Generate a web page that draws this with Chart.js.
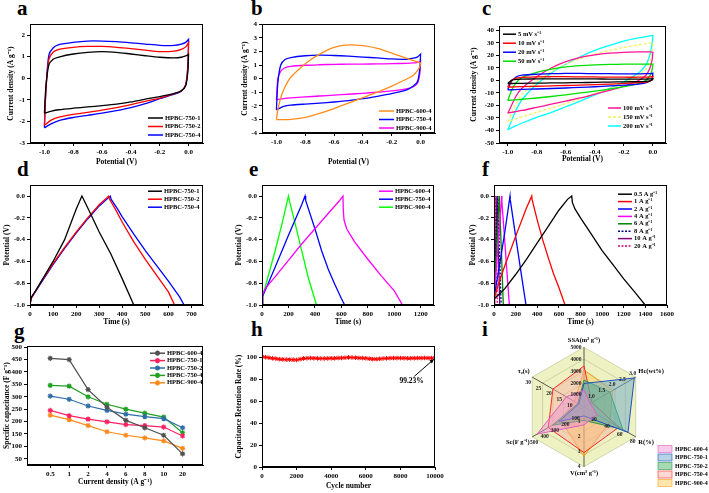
<!DOCTYPE html>
<html>
<head>
<meta charset="utf-8">
<script src="https://cdn.jsdelivr.net/npm/chart.js@4.4.1/dist/chart.umd.min.js"></script>
<style>
  body { margin: 0; background: #fff; width: 709px; height: 493px; position: relative; overflow: hidden; }
  canvas { position: absolute; }
  .lbl { position: absolute; font: bold 21px "Liberation Serif", serif; line-height: 1; }
</style>
</head>
<body>
<div class="lbl" style="left:17px;top:-2px">a</div>
<div class="lbl" style="left:251px;top:-2px">b</div>
<div class="lbl" style="left:482px;top:-2px">c</div>
<div class="lbl" style="left:17px;top:159px">d</div>
<div class="lbl" style="left:249px;top:159px">e</div>
<div class="lbl" style="left:482px;top:159px">f</div>
<div class="lbl" style="left:14px;top:321px">g</div>
<div class="lbl" style="left:251px;top:319px">h</div>
<div class="lbl" style="left:482px;top:319px">i</div>
<canvas id="ca"></canvas><canvas id="cb"></canvas><canvas id="cc"></canvas>
<canvas id="cd"></canvas><canvas id="ce"></canvas><canvas id="cf"></canvas>
<canvas id="cg"></canvas><canvas id="ch"></canvas><canvas id="ci"></canvas>
<script>
// ---- data ----
// CV potential grids: upper branch (-1 -> 0) and lower branch (0 -> -1)
var cvUp = [-1.0, -0.99, -0.97, -0.94, -0.9, -0.8, -0.7, -0.6, -0.5, -0.4, -0.3, -0.2, -0.1, -0.05, -0.02, 0.0];
var cvDown = [0.0, -0.005, -0.02, -0.05, -0.1, -0.2, -0.3, -0.4, -0.5, -0.6, -0.7, -0.8, -0.9, -0.95, -1.0];

// a: CV of HPBC-750-x
var a1Up = [-1.62, -0.4, 0.6, 0.88, 0.98, 1.12, 1.2, 1.23, 1.2, 1.12, 1.04, 0.97, 0.94, 0.97, 1.03, 1.1];
var a1Down = [1.1, 0.3, -0.35, -0.58, -0.7, -0.85, -0.97, -1.1, -1.2, -1.27, -1.33, -1.39, -1.46, -1.52, -1.62];
var a2Up = [-2.18, -0.6, 0.85, 1.2, 1.33, 1.43, 1.47, 1.47, 1.43, 1.37, 1.3, 1.23, 1.25, 1.33, 1.45, 1.65];
var a2Down = [1.65, 0.5, -0.3, -0.58, -0.72, -0.92, -1.07, -1.22, -1.36, -1.48, -1.58, -1.67, -1.8, -1.93, -2.18];
var a4Up = [-2.3, -0.6, 1.05, 1.4, 1.55, 1.66, 1.72, 1.72, 1.69, 1.64, 1.58, 1.52, 1.52, 1.58, 1.66, 1.8];
var a4Down = [1.8, 0.6, -0.3, -0.6, -0.74, -0.95, -1.18, -1.36, -1.5, -1.62, -1.72, -1.82, -1.96, -2.1, -2.3];

// b: CV of HPBC-x-4
var b600Up = [-3.0, -2.3, -1.4, -0.6, 0.1, 1.1, 1.8, 2.3, 2.48, 2.42, 2.22, 1.88, 1.5, 1.32, 1.22, 1.15];
var b600Down = [1.15, 0.9, 0.6, 0.25, -0.05, -0.55, -1.0, -1.4, -1.8, -2.2, -2.55, -2.85, -3.0, -3.02, -3.02];
var b750Up = [-2.3, -0.3, 1.0, 1.4, 1.55, 1.68, 1.72, 1.7, 1.65, 1.58, 1.52, 1.45, 1.42, 1.5, 1.6, 1.8];
var b750Down = [1.8, 0.8, -0.2, -0.55, -0.85, -1.1, -1.3, -1.48, -1.62, -1.72, -1.8, -1.87, -1.95, -2.05, -2.3];
var b900Up = [-1.55, 0.0, 0.55, 0.8, 0.9, 0.98, 1.02, 1.05, 1.06, 1.07, 1.08, 1.1, 1.12, 1.15, 1.2, 1.28];
var b900Down = [1.28, 0.4, -0.3, -0.6, -0.75, -0.9, -1.0, -1.08, -1.15, -1.22, -1.28, -1.35, -1.42, -1.47, -1.55];

// c: CV at scan rates
var cRates = ['5 mV s⁻¹', '10 mV s⁻¹', '20 mV s⁻¹', '50 mV s⁻¹', '100 mV s⁻¹', '150 mV s⁻¹', '200 mV s⁻¹'];
var c5Up = [-2.5, -1.5, 0.2, 0.9, 1.1, 1.25, 1.3, 1.3, 1.25, 1.2, 1.15, 1.1, 1.1, 1.15, 1.2, 1.3];
var c5Down = [1.3, 0.3, -0.4, -0.7, -0.9, -1.1, -1.3, -1.5, -1.7, -1.85, -2.0, -2.1, -2.25, -2.35, -2.5];
var c10Up = [-5.3, -3, 0.3, 1.8, 2.4, 2.9, 3.0, 3.0, 2.9, 2.8, 2.7, 2.6, 2.6, 2.7, 2.8, 3.2];
var c10Down = [3.2, 1.0, -0.5, -1.3, -1.8, -2.4, -2.9, -3.3, -3.7, -4.0, -4.3, -4.6, -4.9, -5.1, -5.3];
var c20Up = [-7.5, -4.5, 0, 3, 4.2, 5.0, 5.4, 5.6, 5.6, 5.5, 5.4, 5.3, 5.3, 5.4, 5.5, 5.8];
var c20Down = [5.8, 2, -0.5, -2, -3, -3.8, -4.4, -5, -5.5, -6, -6.4, -6.8, -7.1, -7.3, -7.5];
var c50Up = [-16, -13, -7, -1.5, 2.5, 6.5, 9, 10.8, 11.8, 12.4, 12.8, 13, 13, 13, 13, 13];
var c50Down = [13, 9, 4, 0, -2.5, -5, -7, -8.5, -10, -11.5, -12.8, -14, -15, -15.5, -16];
var c100Up = [-26, -24, -19, -12, -6, 3, 10, 15, 18.5, 20.5, 21.8, 22.5, 22.8, 22.8, 22.8, 22.5];
var c100Down = [22.5, 17, 10, 4, 0, -4.5, -8, -11, -14, -16.5, -19, -21.5, -24, -25, -26];
var c150Up = [-33, -31, -25, -18, -11, -1, 7, 13, 17.5, 21, 24, 26.5, 28.5, 29.3, 29.8, 30];
var c150Down = [30, 24, 16, 9, 4, -2, -6.5, -10.5, -14.5, -18.5, -22, -25.5, -29, -31, -33];
var c200Up = [-39.5, -37, -31, -23, -15, -3, 6, 13, 19, 24, 28, 31.5, 34, 35, 35.6, 36];
var c200Down = [36, 30, 21, 12, 6, -1, -6.5, -11.5, -16.5, -21, -25.5, -29.5, -34, -36.5, -39.5];

// d: GCD of HPBC-750-x (time s, potential V)
var d1T = [0, 5, 30, 100, 150, 200, 225, 230, 260, 300, 350, 400, 450];
var d1V = [-1.0, -0.93, -0.85, -0.6, -0.4, -0.12, 0, -0.02, -0.15, -0.33, -0.53, -0.76, -1.0];
var d2T = [0, 5, 50, 100, 150, 200, 250, 300, 341, 345, 370, 400, 450, 500, 550, 600, 627];
var d2V = [-1.0, -0.94, -0.78, -0.62, -0.47, -0.33, -0.2, -0.08, 0, -0.03, -0.12, -0.24, -0.42, -0.58, -0.73, -0.88, -1.0];
var d4T = [0, 5, 50, 100, 150, 200, 250, 300, 348, 352, 380, 400, 450, 500, 550, 600, 650, 668];
var d4V = [-1.0, -0.94, -0.79, -0.63, -0.48, -0.34, -0.21, -0.09, 0, -0.03, -0.12, -0.19, -0.35, -0.5, -0.64, -0.78, -0.93, -1.0];

// e: GCD of HPBC-x-4
var e600T = [0, 5, 30, 100, 200, 300, 400, 500, 580, 612, 614, 620, 640, 700, 800, 900, 1000, 1062];
var e600V = [-1.0, -0.9, -0.84, -0.74, -0.59, -0.44, -0.3, -0.16, -0.05, 0, -0.12, -0.22, -0.3, -0.42, -0.58, -0.73, -0.87, -1.0];
var e750T = [0, 5, 100, 200, 300, 325, 330, 400, 450, 500, 550, 600, 625];
var e750V = [-1.0, -0.92, -0.65, -0.36, -0.08, 0, -0.04, -0.3, -0.5, -0.67, -0.81, -0.94, -1.0];
var e900T = [0, 5, 50, 100, 150, 200, 205, 250, 300, 350, 412];
var e900V = [-1.0, -0.92, -0.72, -0.5, -0.26, 0, -0.03, -0.25, -0.5, -0.75, -1.0];

// f: GCD of HPBC-750-4 at current densities
var fRates = ['0.5 A g⁻¹', '1 A g⁻¹', '2 A g⁻¹', '4 A g⁻¹', '6 A g⁻¹', '8 A g⁻¹', '10 A g⁻¹', '20 A g⁻¹'];
var f05T = [0, 5, 50, 100, 200, 300, 400, 500, 600, 680, 719, 725, 750, 800, 900, 1000, 1100, 1200, 1300, 1398];
var f05V = [-1.0, -0.94, -0.9, -0.85, -0.72, -0.58, -0.43, -0.28, -0.13, -0.03, 0, -0.06, -0.12, -0.2, -0.35, -0.5, -0.63, -0.76, -0.88, -1.0];
var f1T = [0, 5, 50, 100, 200, 300, 349, 352, 400, 450, 500, 550, 600, 657];
var f1V = [-1.0, -0.93, -0.78, -0.64, -0.37, -0.11, 0, -0.03, -0.22, -0.4, -0.56, -0.71, -0.84, -1.0];
var f2T = [0, 3, 50, 100, 148, 150, 200, 250, 296];
var f2V = [-1.0, -0.92, -0.64, -0.33, 0, -0.03, -0.37, -0.7, -1.0];
var f4T = [0, 2, 20, 50, 71, 73, 100, 120, 142];
var f4V = [-1.0, -0.9, -0.68, -0.3, 0, -0.05, -0.42, -0.7, -1.0];
var f6T = [0, 2, 20, 49, 51, 70, 86];
var f6V = [-1.0, -0.9, -0.55, 0, -0.06, -0.55, -1.0];
var f8T = [0, 2, 15, 36, 38, 52, 66];
var f8V = [-1.0, -0.9, -0.56, 0, -0.07, -0.55, -1.0];
var f10T = [0, 2, 12, 27, 29, 42, 53];
var f10V = [-1.0, -0.88, -0.55, 0, -0.08, -0.55, -1.0];
var f20T = [0, 1, 8, 16, 18, 25, 30];
var f20V = [-1.0, -0.85, -0.5, 0, -0.12, -0.6, -1.0];

// g: rate capability
var gLabels = ['0.5', '1', '2', '4', '6', '8', '10', '20'];
var g600 = [455, 450, 329, 258, 205, 175, 145, 70];
var g750_1 = [245, 224, 210, 199, 188, 184, 178, 142];
var g750_2 = [303, 290, 263, 245, 230, 220, 212, 175];
var g750_4 = [346, 343, 300, 270, 250, 234, 218, 155];
var g900 = [226, 208, 184, 159, 145, 134, 122, 92];

// h: cycling stability
var hCycles = [0, 200, 400, 600, 800, 1000, 1200, 1400, 1600, 1800, 2000, 2200, 2400, 2600, 2800, 3000, 3200, 3400, 3600, 3800,
  4000, 4200, 4400, 4600, 4800, 5000, 5200, 5400, 5600, 5800, 6000, 6200, 6400, 6600, 6800, 7000, 7200, 7400, 7600, 7800,
  8000, 8200, 8400, 8600, 8800, 9000, 9200, 9400, 9600, 9800, 10000];
var hRetention = [100.5, 100, 99.5, 99, 98.7, 98.2, 98, 97.8, 97.8, 97.7, 97.5, 98.2, 98.8, 99, 99.2, 99, 98.9, 98.8, 98.8, 98.9,
  99, 99, 99.2, 99.3, 99.5, 99.8, 99.7, 99.5, 99.3, 99.2, 99, 98.6, 98.3, 98.2, 98.5, 98.8, 99, 99.1, 99.2, 99.2,
  99.2, 99.1, 99, 99, 99.1, 99.2, 99.2, 99.3, 99.2, 99.2, 99.23];
var hNoteText = '99.23%';
var hNoteAt = [8650, 78];
var hArrow = [[8800, 82.5], [9950, 98.3]];

// i: radar of properties (raw values per axis)
var iAxes = ['SSA(m² g⁻¹)', 'Hc(wt%)', 'R(%)', 'V(cm³ g⁻¹)', 'Sc(F g⁻¹)', 'τ₀(s)'];
var iMin = [0, 0.5, 0, 0, 0, 5];
var iMax = [5000, 3.0, 80, 4, 500, 30];
var iTicks = [[1000, 2000, 3000, 4000, 5000], ['1.0', '1.5', '2.0', '2.5', '3.0'], [20, 40, 60, 80], [1, 2, 3, 4], [100, 200, 300, 400, 500], [10, 15, 20, 25, 30]];
var iNames = ['HPBC-600-4', 'HPBC-750-1', 'HPBC-750-2', 'HPBC-750-4', 'HPBC-900-4'];
var i600 = [1400, 0.8, 20, 1.2, 453, 13.5];
var i750_1 = [1970, 2.93, 68, 0.6, 242, 7.5];
var i750_2 = [2250, 1.75, 60, 0.9, 305, 8];
var i750_4 = [3430, 0.88, 54, 3.05, 345, 20];
var i900 = [3100, 1.88, 40, 3.3, 225, 9.5];

// ---- setup ----
var FONT = '"Liberation Serif", "Times New Roman", serif';
Chart.defaults.font.family = FONT;
Chart.defaults.font.weight = 'bold';
Chart.defaults.font.size = 7;
Chart.defaults.color = '#000';
Chart.defaults.animation = false;
Chart.defaults.responsive = false;
Chart.defaults.devicePixelRatio = 1;
Chart.defaults.plugins.legend.display = false;
Chart.defaults.plugins.tooltip.enabled = false;

function xy(xs, ys) { return xs.map(function (x, i) { return { x: x, y: ys[i] }; }); }
function loop(up, down) { return xy(cvUp, up).concat(xy(cvDown, down)); }
function line(label, data, color, extra) {
  return Object.assign({ label: label, data: data, borderColor: color, backgroundColor: color,
    borderWidth: 1.3, pointRadius: 0, showLine: true, fill: false, tension: 0 }, extra || {});
}

function panel(id, box, yW, xH, padT, padR) {
  var cv = document.getElementById(id);
  var left = box[0] - yW, top = box[1] - padT;
  var w = box[2] - left + padR, h = box[3] - top + xH;
  cv.width = w; cv.height = h;
  cv.style.left = left + 'px'; cv.style.top = top + 'px';
  cv.style.width = w + 'px'; cv.style.height = h + 'px';
  return cv;
}

function axis(min, max, step, title, size, digits, labels, titlePad) {
  return {
    type: 'linear', min: min, max: max,
    ticks: { stepSize: step, padding: 2, font: { size: 7 },
      callback: function (v) { return labels ? labels[v] : (digits ? v.toFixed(digits) : String(v)); } },
    // ticks only on whole multiples of the step, inside the axis range
    afterBuildTicks: function (s) {
      var t = [];
      for (var k = Math.ceil(min / step - 1e-6); k * step <= max + 1e-9; k++) {
        var v = Math.round(k * step * 1e6) / 1e6;
        if (!labels || (v >= 0 && v < labels.length)) t.push({ value: v });
      }
      s.ticks = t;
    },
    grid: { drawOnChartArea: false, tickLength: 3, color: '#000' },
    border: { color: '#000', width: 1 },
    title: { display: true, text: title, font: { size: 7.5 }, padding: { top: titlePad || 3, bottom: 1 } },
    afterFit: function (s) { if (s.isHorizontal()) s.height = size; else s.width = size; }
  };
}

function opts(x, y, padT, padR, legend) {
  return {
    layout: { padding: { left: 0, top: padT, right: padR, bottom: 0 } },
    scales: { x: x, y: y },
    plugins: { innerLegend: legend }
  };
}

var frame = {
  id: 'frame',
  afterDatasetsDraw: function (c) {
    var a = c.chartArea, ctx = c.ctx;
    ctx.save();
    ctx.strokeStyle = '#000';
    ctx.lineWidth = 1;
    ctx.strokeRect(Math.round(a.left) + 0.5, Math.round(a.top) + 0.5, Math.round(a.right - a.left) - 1, Math.round(a.bottom - a.top) - 1);
    ctx.restore();
  }
};

var innerLegend = {
  id: 'innerLegend',
  afterDraw: function (c, args, o) {
    if (!o || !o.groups) return;
    var ctx = c.ctx, a = c.chartArea;
    ctx.save();
    ctx.font = 'bold ' + (o.size || 6.5) + 'px ' + FONT;
    ctx.textBaseline = 'middle';
    o.groups.forEach(function (g) {
      var x0 = g.left != null ? a.left + g.left : a.right - g.right;
      var y0 = g.top != null ? a.top + g.top : a.bottom - g.bottom;
      g.items.forEach(function (i, k) {
        var ds = c.data.datasets[i], y = y0 + k * o.rowH;
        ctx.strokeStyle = ds.borderColor;
        ctx.lineWidth = 1.5;
        ctx.setLineDash(ds.borderDash || []);
        ctx.beginPath(); ctx.moveTo(x0, y); ctx.lineTo(x0 + o.lineLen, y); ctx.stroke();
        ctx.setLineDash([]);
        if (o.marker) {
          Chart.helpers.drawPoint(ctx, { pointStyle: ds.pointStyle, radius: ds.pointRadius, borderWidth: ds.pointBorderWidth || 1 }, x0 + o.lineLen / 2, y);
        }
        ctx.fillStyle = '#000';
        ctx.fillText(ds.label, x0 + o.lineLen + 2, y);
      });
    });
    ctx.restore();
  }
};

var cvTension = { tension: 0.25 };
var PV = 'Potential (V)', CD = 'Current density (A g⁻¹)', PT = 'Potential (V)', TS = 'Time (s)';

// a
new Chart(panel('ca', [30, 23, 203, 143], 30, 25, 5, 6), {
  type: 'scatter',
  data: { datasets: [
    line('HPBC-750-1', loop(a1Up, a1Down), '#000000', cvTension),
    line('HPBC-750-2', loop(a2Up, a2Down), '#ff0000', cvTension),
    line('HPBC-750-4', loop(a4Up, a4Down), '#0000ff', cvTension)
  ] },
  options: opts(axis(-1.1, 0.1, 0.2, PV, 25, 1), axis(-3, 2.5, 1, CD, 30, 0, null, 7), 5, 6,
    { groups: [{ items: [0, 1, 2], right: 55, bottom: 25 }], rowH: 8.5, lineLen: 15 }),
  plugins: [frame, innerLegend]
});

// b
new Chart(panel('cb', [262, 23, 435, 133], 30, 35, 5, 6), {
  type: 'scatter',
  data: { datasets: [
    line('HPBC-600-4', loop(b600Up, b600Down), '#ff8c1a', cvTension),
    line('HPBC-750-4', loop(b750Up, b750Down), '#0000ff', cvTension),
    line('HPBC-900-4', loop(b900Up, b900Down), '#ff00ff', cvTension)
  ] },
  options: opts(axis(-1.1, 0.1, 0.2, PV, 35, 1), axis(-4, 4, 1, CD, 30, 0, null, 9), 5, 6,
    { groups: [{ items: [0, 1, 2], right: 56, bottom: 22 }], rowH: 8.5, lineLen: 15 }),
  plugins: [frame, innerLegend]
});

// c
var cColors = ['#000000', '#ff0000', '#0000ff', '#00e000', '#ff1493', '#f2f25a', '#00ffff'];
var cUps = [c5Up, c10Up, c20Up, c50Up, c100Up, c150Up, c200Up];
var cDowns = [c5Down, c10Down, c20Down, c50Down, c100Down, c150Down, c200Down];
new Chart(panel('cc', [499, 25, 666, 143], 32, 22, 5, 6), {
  type: 'scatter',
  data: { datasets: cRates.map(function (r, i) {
    return line(r, loop(cUps[i], cDowns[i]), cColors[i], { tension: 0.25, borderDash: i === 5 ? [3, 2] : [] });
  }) },
  options: opts(axis(-1.06, 0.09, 0.2, PV, 22, 1), axis(-50, 43.4, 10, CD, 32, 0), 5, 6,
    { groups: [{ items: [0, 1, 2, 3], left: 4, top: 8 }, { items: [4, 5, 6], right: 58, bottom: 35 }], rowH: 9, lineLen: 13 }),
  plugins: [frame, innerLegend]
});

// d
new Chart(panel('cd', [30, 184, 203, 305], 30, 23, 5, 6), {
  type: 'scatter',
  data: { datasets: [
    line('HPBC-750-1', xy(d1T, d1V), '#000000'),
    line('HPBC-750-2', xy(d2T, d2V), '#ff0000'),
    line('HPBC-750-4', xy(d4T, d4V), '#0000ff')
  ] },
  options: opts(axis(0, 750, 100, TS, 23, 0), axis(-1.0, 0.1, 0.2, PT, 30, 1), 5, 6,
    { groups: [{ items: [0, 1, 2], right: 55, top: 6 }], rowH: 8, lineLen: 14 }),
  plugins: [frame, innerLegend]
});

// e
new Chart(panel('ce', [262, 184, 434, 305], 30, 23, 5, 6), {
  type: 'scatter',
  data: { datasets: [
    line('HPBC-600-4', xy(e600T, e600V), '#ff00ff'),
    line('HPBC-750-4', xy(e750T, e750V), '#0000ff'),
    line('HPBC-900-4', xy(e900T, e900V), '#00ff00')
  ] },
  options: opts(axis(0, 1300, 200, TS, 23, 0), axis(-1.0, 0.1, 0.2, PT, 30, 1), 5, 6,
    { groups: [{ items: [0, 1, 2], right: 55, top: 6 }], rowH: 8, lineLen: 14 }),
  plugins: [frame, innerLegend]
});

// f
var fColors = ['#000000', '#ff0000', '#0000ff', '#ff00ff', '#008000', '#000080', '#800080', '#cc0077'];
var fTs = [f05T, f1T, f2T, f4T, f6T, f8T, f10T, f20T];
var fVs = [f05V, f1V, f2V, f4V, f6V, f8V, f10V, f20V];
new Chart(panel('cf', [494, 184, 667, 305], 28, 23, 5, 10), {
  type: 'scatter',
  data: { datasets: fRates.map(function (r, i) {
    return line(r, xy(fTs[i], fVs[i]), fColors[i], { borderDash: (i === 5 || i === 7) ? [2, 1.5] : [] });
  }) },
  options: opts(axis(0, 1600, 200, TS, 23, 0), axis(-1.0, 0.1, 0.2, PT, 28, 1), 5, 10,
    { groups: [{ items: [0, 1, 2, 3, 4, 5, 6, 7], right: 49, top: 9 }], rowH: 7.4, lineLen: 14 }),
  plugins: [frame, innerLegend]
});

// g
var gIdx = gLabels.map(function (l, i) { return i; });
var gMark = { pointStyle: 'star', pointRadius: 2.6, pointBorderWidth: 1.2, borderWidth: 1.2 };
new Chart(panel('cg', [27, 345, 203, 465], 27, 23, 5, 6), {
  type: 'scatter',
  data: { datasets: [
    line('HPBC-600-4', xy(gIdx, g600), '#505050', gMark),
    line('HPBC-750-1', xy(gIdx, g750_1), '#ff2060', gMark),
    line('HPBC-750-2', xy(gIdx, g750_2), '#2f6ea8', gMark),
    line('HPBC-750-4', xy(gIdx, g750_4), '#20a020', gMark),
    line('HPBC-900-4', xy(gIdx, g900), '#ff8a1c', gMark)
  ] },
  options: opts(axis(-1.23, 8.08, 1, 'Current density (A g⁻¹)', 23, 0, gLabels),
    axis(25, 504, 50, 'Specific capacitance (F g⁻¹)', 27, 0), 5, 6,
    { groups: [{ items: [0, 1, 2, 3, 4], right: 53, top: 7 }], rowH: 7.4, lineLen: 15, marker: true }),
  plugins: [frame, innerLegend]
});

// h
var hNote = {
  id: 'hNote',
  afterDatasetsDraw: function (c) {
    var sx = c.scales.x, sy = c.scales.y, ctx = c.ctx;
    var x1 = sx.getPixelForValue(hArrow[0][0]), y1 = sy.getPixelForValue(hArrow[0][1]);
    var x2 = sx.getPixelForValue(hArrow[1][0]), y2 = sy.getPixelForValue(hArrow[1][1]);
    ctx.save();
    ctx.strokeStyle = '#000'; ctx.fillStyle = '#000'; ctx.lineWidth = 1;
    ctx.beginPath(); ctx.moveTo(x1, y1); ctx.lineTo(x2, y2); ctx.stroke();
    var ang = Math.atan2(y2 - y1, x2 - x1);
    ctx.beginPath();
    ctx.moveTo(x2, y2);
    ctx.lineTo(x2 - 5 * Math.cos(ang - 0.4), y2 - 5 * Math.sin(ang - 0.4));
    ctx.lineTo(x2 - 5 * Math.cos(ang + 0.4), y2 - 5 * Math.sin(ang + 0.4));
    ctx.closePath(); ctx.fill();
    ctx.font = 'bold 7.5px ' + FONT;
    ctx.textAlign = 'center'; ctx.textBaseline = 'middle';
    ctx.fillText(hNoteText, sx.getPixelForValue(hNoteAt[0]), sy.getPixelForValue(hNoteAt[1]));
    ctx.restore();
  }
};
new Chart(panel('ch', [262, 345, 435, 467], 30, 25, 5, 14), {
  type: 'scatter',
  data: { datasets: [
    line('retention', xy(hCycles, hRetention), '#ff0000', { pointStyle: 'star', pointRadius: 2.3, pointBorderWidth: 1, borderWidth: 1 })
  ] },
  options: opts(axis(0, 10000, 2000, 'Cycle number', 25, 0), axis(0, 110, 20, 'Capacitance Retention Rate (%)', 30, 0), 5, 14, null),
  plugins: [frame, hNote]
});

// i
function norm(vals) { return vals.map(function (v, k) { return (v - iMin[k]) / (iMax[k] - iMin[k]); }); }
var iSeries = [i600, i750_1, i750_2, i750_4, i900];
var iFill = ['rgba(235,140,210,0.45)', 'rgba(110,170,200,0.5)', 'rgba(60,170,90,0.45)', 'rgba(250,170,165,0.45)', 'rgba(250,200,70,0.45)'];
var iLine = ['#e060c0', '#2050c0', '#2a9a4a', '#ff2a2a', '#f0a020'];
var iOffsets = [[-8, 0], [-3, -4], [-3, 5], [-5, 0], [2, 6], [-4, 5]];
var radarTicks = {
  id: 'radarTicks',
  afterDatasetsDraw: function (c) {
    var s = c.scales.r, ctx = c.ctx;
    ctx.save();
    ctx.font = 'bold 5.5px ' + FONT;
    ctx.fillStyle = '#222';
    ctx.textAlign = 'center'; ctx.textBaseline = 'middle';
    iTicks.forEach(function (list, k) {
      list.forEach(function (v) {
        var f = (parseFloat(v) - iMin[k]) / (iMax[k] - iMin[k]);
        var p = s.getPointPosition(k, s.getDistanceFromCenterForValue(f));
        ctx.fillText(String(v), p.x + iOffsets[k][0], p.y + iOffsets[k][1]);
      });
    });
    ctx.restore();
  }
};
// legend boxes at the lower right of the panel
var radarLegend = {
  id: 'radarLegend',
  afterDraw: function (c) {
    var ctx = c.ctx;
    ctx.save();
    ctx.font = 'bold 6px ' + FONT;
    ctx.textBaseline = 'middle';
    c.data.datasets.forEach(function (ds, k) {
      var y = 119 + k * 8.5;
      ctx.fillStyle = ds.backgroundColor; ctx.fillRect(188, y - 3.5, 14, 7);
      ctx.strokeStyle = ds.borderColor; ctx.lineWidth = 0.6; ctx.strokeRect(188, y - 3.5, 14, 7);
      ctx.fillStyle = '#000'; ctx.fillText(ds.label, 205, y);
    });
    ctx.restore();
  }
};
var ci = document.getElementById('ci');
ci.width = 239; ci.height = 163;
ci.style.left = '470px'; ci.style.top = '330px'; ci.style.width = '239px'; ci.style.height = '163px';
new Chart(ci, {
  type: 'radar',
  data: { labels: iAxes, datasets: iSeries.map(function (s, i) {
    return { label: iNames[i], data: norm(s), backgroundColor: iFill[i], borderColor: iLine[i], borderWidth: 1, pointRadius: 0, fill: true };
  }) },
  options: {
    layout: { padding: { left: 36, top: 0, right: 43, bottom: 8 } },
    scales: { r: {
      min: 0, max: 1,
      ticks: { display: false, stepSize: 0.2 },
      grid: { color: '#b9bd90', lineWidth: 0.6 },
      angleLines: { color: '#333', lineWidth: 0.8 },
      pointLabels: { font: { size: 6.5, weight: 'bold' }, padding: 3, color: '#000' },
      backgroundColor: '#eef2c2'
    } }
  },
  plugins: [radarTicks, radarLegend]
});
</script>
</body>
</html>
